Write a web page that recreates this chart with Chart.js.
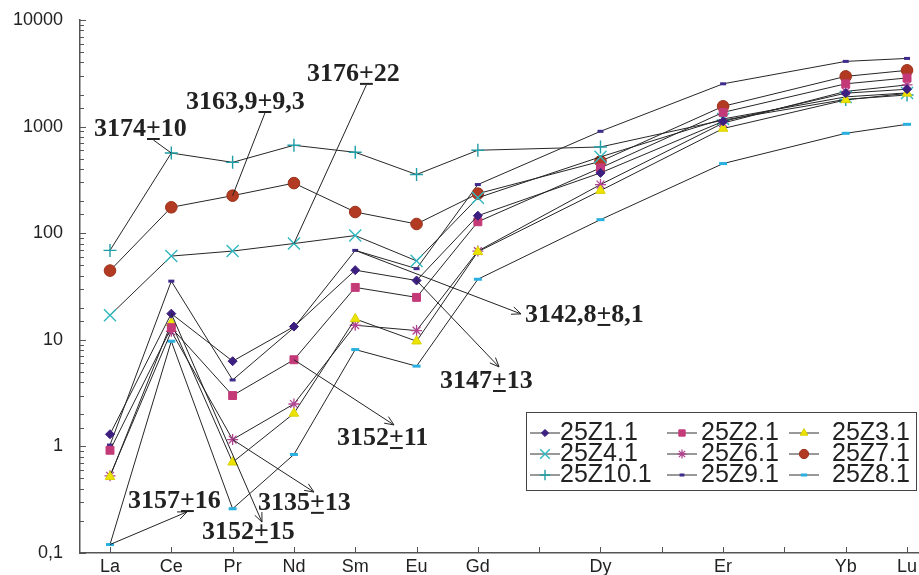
<!DOCTYPE html>
<html><head><meta charset="utf-8">
<script src="https://cdn.jsdelivr.net/npm/chart.js@4/dist/chart.umd.min.js"></script>
<style>html,body{margin:0;padding:0;background:#fff;}canvas{display:block;}</style>
</head><body>
<canvas id="c" width="919" height="575"></canvas>
<script>
// ---------- DATA ----------
const categories = ['La','Ce','Pr','Nd','Sm','Eu','Gd','Tb','Dy','Ho','Er','Tm','Yb','Lu'];
const tickLabels = ['La','Ce','Pr','Nd','Sm','Eu','Gd','','Dy','','Er','','Yb','Lu'];
const yTickValues = [0.1, 1, 10, 100, 1000, 10000];
const yTickLabels = ['0,1','1','10','100','1000','10000'];

const s25Z1_1  = [1.3, 17.6, 6.3, 13.3, 45, 36, 146, null, 368, null, 1120, null, 2060, 2240];
const s25Z2_1  = [0.92, 13.0, 3.0, 6.5, 31, 25, 128, null, 410, null, 1360, null, 2520, 2860];
const s25Z3_1  = [0.52, 14.4, 0.71, 2.04, 15.7, 9.7, 67, null, 251, null, 960, null, 1780, 2050];
const s25Z4_1  = [17, 61, 68, 80, 95, 55, 215, null, 520, null, 1180, null, 1900, 2070];
const s25Z6_1  = [0.53, 12.0, 1.16, 2.5, 13.7, 12.2, 68, null, 286, null, 1080, null, 2140, 2460];
const s25Z7_1  = [44.6, 175, 225, 295, 158, 122, 235, null, 472, null, 1550, null, 2960, 3370];
const s25Z10_1 = [69, 565, 462, 668, 574, 355, 600, null, 644, null, 1150, null, 1800, 1980];
const s25Z9_1  = [1.03, 35.5, 4.2, 13, 69, 46.5, 286, null, 903, null, 2520, null, 4090, 4360];
const s25Z8_1  = [0.12, 9.7, 0.26, 0.84, 8.1, 5.66, 37, null, 134, null, 450, null, 865, 1050];

const seriesNames  = ['25Z1.1','25Z2.1','25Z3.1','25Z4.1','25Z6.1','25Z7.1','25Z10.1','25Z9.1','25Z8.1'];
const seriesValues = [s25Z1_1, s25Z2_1, s25Z3_1, s25Z4_1, s25Z6_1, s25Z7_1, s25Z10_1, s25Z9_1, s25Z8_1];

// annotation texts (age ± error) and the point each one refers to
const annTexts      = ['3174+10','3163,9+9,3','3176+22','3142,8+8,1','3147+13','3152+11','3157+16','3152+15','3135+13'];
const annFromSeries = ['25Z10.1','25Z7.1','25Z4.1','25Z9.1','25Z1.1','25Z2.1','25Z8.1','25Z1.1','25Z6.1'];
const annFromCat    = ['Ce','Pr','Nd','Sm','Eu','Nd','La','Ce','Pr'];

// ---------- STYLES / PLACEMENT ----------
const seriesStyles = [
  {style:'rectRot', r:4.5, fill:'#3d1f80', stroke:'#3d1f80', bw:1},
  {style:'rect',    r:5.6, fill:'#c43a78', stroke:'#c43a78', bw:1},
  {style:'triangle',r:5.5, fill:'#ece400', stroke:'#d8d000', bw:1},
  {style:'crossRot',r:8.5, fill:'#30b8c0', stroke:'#30b8c0', bw:1.4},
  {style:'star',    r:5.5, fill:'#b84a9a', stroke:'#b04490', bw:1.3},
  {style:'circle',  r:5.8, fill:'#b33a22', stroke:'#9a3019', bw:1},
  {style:'cross',   r:6.5, fill:'#1f9ea6', stroke:'#1f9ea6', bw:1.4},
  {style:'line',    r:3,   fill:'#3d2a8a', stroke:'#3d2a8a', bw:3},
  {style:'line',    r:4,   fill:'#2ab0e0', stroke:'#2ab0e0', bw:3}
];
// annotation placement in data coordinates (x = category index, y = value)
const annPos = [
  {tx:-0.261, ty:816},
  {tx:1.240,  ty:1462},
  {tx:3.213,  ty:2685},
  {tx:6.769,  ty:14.7, ex:6.704, ey:17.5},
  {tx:5.382,  ty:3.53, ex:6.345, ey:5.57},
  {tx:3.702,  ty:1.03, ex:4.632, ey:1.59},
  {tx:0.294,  ty:0.264, ex:1.256, ey:0.243},
  {tx:1.500,  ty:0.135, ex:2.479, ey:0.195},
  {tx:2.414,  ty:0.254, ex:3.327, ey:0.373}
];
const legendOrder = ['25Z1.1','25Z2.1','25Z3.1','25Z4.1','25Z6.1','25Z7.1','25Z10.1','25Z9.1','25Z8.1'];
const legendLayout = {left:526, top:412, right:916, bottom:490, lineX:[530,667,789], textX:[560,701,832], baseY:[440,461,482]};

const datasets = seriesNames.map((name, i) => {
  const st = seriesStyles[i];
  return {
    label: name,
    data: seriesValues[i].map((v, k) => v == null ? null : {x:k, y:v}).filter(p => p),
    borderColor: '#262626',
    borderWidth: 1,
    pointStyle: st.style,
    pointRadius: st.r,
    pointBackgroundColor: st.fill,
    pointBorderColor: st.stroke,
    pointBorderWidth: st.bw,
    tension: 0,
    spanGaps: true,
    clip: false
  };
});

const axisTicksPlugin = {
  id: 'axisTicks',
  afterDraw(chart) {
    const ctx = chart.ctx, xs = chart.scales.x, ys = chart.scales.y;
    ctx.save();
    ctx.strokeStyle = '#555'; ctx.lineWidth = 1;
    ys.ticks.forEach(t => {
      const py = Math.round(ys.getPixelForValue(t.value)) + 0.5;
      const major = yTickValues.some(v => Math.abs(v - t.value) < 1e-9 * v);
      ctx.beginPath(); ctx.moveTo(ys.right, py); ctx.lineTo(ys.right + (major ? 6 : 4), py); ctx.stroke();
    });
    xs.ticks.forEach(t => {
      const px = Math.round(xs.getPixelForValue(t.value)) + 0.5;
      ctx.beginPath(); ctx.moveTo(px, xs.top); ctx.lineTo(px, xs.top - 6); ctx.stroke();
    });
    ctx.restore();
  }
};

function seg(ctx, x0, y0, x1, y1) { ctx.beginPath(); ctx.moveTo(x0, y0); ctx.lineTo(x1, y1); ctx.stroke(); }

const annotationPlugin = {
  id: 'ageLabels',
  afterDatasetsDraw(chart) {
    const ctx = chart.ctx, xs = chart.scales.x, ys = chart.scales.y;
    ctx.save();
    ctx.font = 'bold 26px "Liberation Serif", "Times New Roman", serif';
    ctx.fillStyle = '#222'; ctx.strokeStyle = '#222';
    ctx.textAlign = 'left'; ctx.textBaseline = 'alphabetic';
    annTexts.forEach((txt, i) => {
      const p = annPos[i];
      const tx = xs.getPixelForValue(p.tx), ty = ys.getPixelForValue(p.ty);
      ctx.fillText(txt, tx, ty);
      const k = txt.indexOf('+');
      const wb = ctx.measureText(txt.slice(0, k)).width;
      const wp = ctx.measureText('+').width;
      const ux0 = tx + wb + 1, ux1 = tx + wb + wp - 1, uy = ty + 3;
      ctx.lineWidth = 2; seg(ctx, ux0, uy, ux1, uy);
      const si = seriesNames.indexOf(annFromSeries[i]);
      const ci = categories.indexOf(annFromCat[i]);
      const px = xs.getPixelForValue(ci), py = ys.getPixelForValue(seriesValues[si][ci]);
      ctx.lineWidth = 1;
      if (p.ex !== undefined) {
        const ex = xs.getPixelForValue(p.ex), ey = ys.getPixelForValue(p.ey);
        seg(ctx, px, py, ex, ey);
        const a = Math.atan2(ey - py, ex - px), L = 10, h = 0.4;
        seg(ctx, ex, ey, ex - L * Math.cos(a - h), ey - L * Math.sin(a - h));
        seg(ctx, ex, ey, ex - L * Math.cos(a + h), ey - L * Math.sin(a + h));
      } else {
        seg(ctx, (ux0 + ux1) / 2, uy + 1, px, py);
      }
    });
    ctx.restore();
  }
};

const legendPlugin = {
  id: 'gridLegend',
  afterDraw(chart) {
    const ctx = chart.ctx, L = legendLayout;
    ctx.save();
    ctx.fillStyle = '#fff';
    ctx.fillRect(L.left, L.top, L.right - L.left, L.bottom - L.top);
    ctx.strokeStyle = '#444'; ctx.lineWidth = 1;
    ctx.strokeRect(L.left + 0.5, L.top + 0.5, L.right - L.left, L.bottom - L.top);
    ctx.font = '25px "Liberation Sans", Arial, sans-serif';
    ctx.textAlign = 'left'; ctx.textBaseline = 'alphabetic';
    legendOrder.forEach((name, n) => {
      const row = Math.floor(n / 3), col = n % 3;
      const ds = chart.data.datasets[seriesNames.indexOf(name)];
      const y = L.baseY[row] - 7, x0 = L.lineX[col], x1 = x0 + 30;
      ctx.strokeStyle = '#333'; ctx.lineWidth = 1;
      seg(ctx, x0, y, x1, y);
      ctx.fillStyle = ds.pointBackgroundColor; ctx.strokeStyle = ds.pointBorderColor;
      ctx.lineWidth = ds.pointBorderWidth;
      Chart.helpers.drawPoint(ctx, {pointStyle: ds.pointStyle, radius: ds.pointRadius * 0.8, rotation: 0, borderWidth: ds.pointBorderWidth}, (x0 + x1) / 2, y);
      ctx.fillStyle = '#222';
      ctx.fillText(name, L.textX[col], L.baseY[row]);
    });
    ctx.restore();
  }
};

new Chart(document.getElementById('c'), {
  type: 'line',
  data: { datasets },
  options: {
    responsive: false,
    animation: false,
    events: [],
    layout: { autoPadding: false, padding: {top: 20, right: 0, bottom: 0, left: 0} },
    plugins: { legend: {display: false}, tooltip: {enabled: false} },
    scales: {
      x: {
        type: 'linear',
        min: -0.4893, max: 13.195,
        grid: {display: false, drawTicks: false},
        border: {display: true, color: '#555', width: 1.5},
        afterBuildTicks: s => { s.ticks = categories.map((c, i) => ({value: i})); },
        afterFit: s => {
          s.height = 22; s.paddingLeft = 0; s.paddingRight = 0;
          if (s._margins) { s._margins.left = 0; s._margins.right = 0; }
        },
        ticks: {
          autoSkip: false, maxRotation: 0, padding: 3,
          color: '#222', font: {family: '"Liberation Sans", Arial, sans-serif', size: 18},
          callback: v => tickLabels[v]
        }
      },
      y: {
        type: 'logarithmic',
        min: 0.1, max: 10000,
        grid: {display: false, drawTicks: false},
        border: {display: true, color: '#555', width: 1.5},
        afterFit: s => {
          s.width = 80; s.paddingTop = 0; s.paddingBottom = 0;
          if (s._margins) { s._margins.top = 0; s._margins.bottom = 0; }
        },
        ticks: {
          autoSkip: false, padding: 17,
          color: '#222', font: {family: '"Liberation Sans", Arial, sans-serif', size: 18},
          callback: v => {
            const k = yTickValues.findIndex(t => Math.abs(t - v) < 1e-9 * t);
            return k < 0 ? '' : yTickLabels[k];
          }
        }
      }
    }
  },
  plugins: [axisTicksPlugin, annotationPlugin, legendPlugin]
});
</script>
</body></html>
